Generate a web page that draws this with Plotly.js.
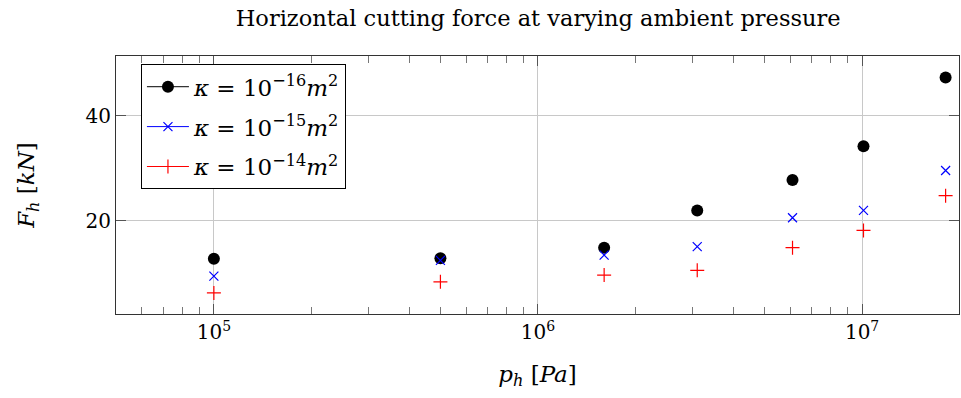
<!DOCTYPE html>
<html>
<head>
<meta charset="utf-8">
<script src="https://cdn.plot.ly/plotly-3.0.1.min.js"></script>
<style>html,body{margin:0;padding:0;background:#fff;}#chart{width:961px;height:398px;}</style>
</head>
<body>
<div id="chart"></div>
<script>
// Ambient pressure [Pa]
const pressure = [1e5, 5e5, 1.6e6, 3.1e6, 6.1e6, 1.01e7, 1.81e7];
// Horizontal cutting force [kN]
const force_k16 = [12.8, 12.9, 14.9, 22.0, 27.8, 34.2, 47.3];
const force_k15 = [9.5, 12.5, 13.5, 15.1, 20.6, 22.0, 29.6];
const force_k14 = [6.3, 8.4, 9.7, 10.6, 14.9, 18.2, 24.8];
const seriesNames = [
  "<i>κ</i> = 10<sup>−16</sup><i>m</i><sup>2</sup>",
  "<i>κ</i> = 10<sup>−15</sup><i>m</i><sup>2</sup>",
  "<i>κ</i> = 10<sup>−14</sup><i>m</i><sup>2</sup>"
];
const xTickVals = [1e5, 1e6, 1e7];
const xTickText = ["10<sup>5</sup>", "10<sup>6</sup>", "10<sup>7</sup>"];
const yTickVals = [20, 40];

const FONT = "DejaVu Serif, serif";
const styles = [
  {marker: {symbol: "circle", size: 12, color: "black"}, line: {color: "black", width: 1}},
  {marker: {symbol: "x-thin-open", size: 9, color: "blue", line: {color: "blue", width: 1.2}}, line: {color: "blue", width: 1}},
  {marker: {symbol: "cross-thin-open", size: 10, color: "red", line: {color: "red", width: 1.2}}, line: {color: "red", width: 1}}
];
const ys = [force_k16, force_k15, force_k14];
const traces = [];
ys.forEach((y, i) => {
  traces.push({x: pressure, y: y, type: "scatter", mode: "markers", marker: styles[i].marker, showlegend: false, hoverinfo: "x+y"});
});
ys.forEach((y, i) => {
  traces.push({x: [null], y: [null], type: "scatter", mode: "lines+markers", name: seriesNames[i], legendgroup: "g" + i, marker: styles[i].marker, line: styles[i].line});
});

const layout = {
  width: 961, height: 398,
  margin: {l: 116, r: 2, t: 56, b: 84},
  paper_bgcolor: "#fff", plot_bgcolor: "#fff",
  font: {family: FONT, color: "#000"},
  title: {text: "Horizontal cutting force at varying ambient pressure", font: {size: 22.5, family: FONT}, x: 0.56, xanchor: "center", y: 1 - 18/398, yanchor: "middle", yref: "container"},
  xaxis: {
    type: "log", range: [4.698, 7.299],
    tickmode: "array", tickvals: xTickVals, ticktext: xTickText,
    ticks: "inside", ticklen: 10, tickcolor: "#555",
    showgrid: true, gridcolor: "#c8c8c8", gridwidth: 1,
    showline: true, linecolor: "#333", linewidth: 1, mirror: "allticks",
    zeroline: false,
    tickfont: {size: 20, family: FONT},
    minor: {dtick: "D1", ticks: "inside", ticklen: 7, tickcolor: "#777", showgrid: false},
    title: {text: "<i>p</i><sub><i>h</i></sub> [<i>Pa</i>]", font: {size: 23, family: FONT}, standoff: 22}
  },
  yaxis: {
    range: [2.28, 51.4],
    tickmode: "array", tickvals: yTickVals,
    ticks: "inside", ticklen: 10, tickcolor: "#555",
    showgrid: true, gridcolor: "#c8c8c8", gridwidth: 1,
    showline: true, linecolor: "#333", linewidth: 1, mirror: "allticks",
    zeroline: false,
    tickfont: {size: 20, family: FONT},
    title: {text: "<i>F</i><sub><i>h</i></sub> [<i>kN</i>]", font: {size: 23, family: FONT}, standoff: 44}
  },
  legend: {
    x: 0.0296, y: 0.968, xanchor: "left", yanchor: "top",
    bgcolor: "#fff", bordercolor: "#000", borderwidth: 1,
    font: {size: 23, family: FONT},
    itemwidth: 42,
    tracegroupgap: 7
  }
};
Plotly.newPlot("chart", traces, layout, {displayModeBar: false, staticPlot: true});
</script>
</body>
</html>
